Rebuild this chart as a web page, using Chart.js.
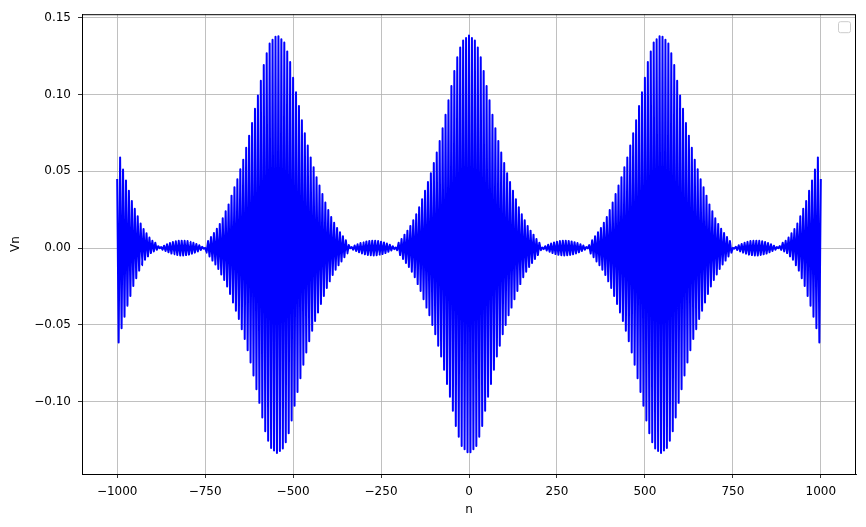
<!DOCTYPE html>
<html><head><meta charset="utf-8">
<script src="https://cdn.jsdelivr.net/npm/chart.js@4/dist/chart.umd.min.js"></script>
<style>html,body{margin:0;padding:0;background:#fff}#wrap{width:866px;height:527px}</style>
</head><body><div id="wrap"><canvas id="c" width="866" height="527"></canvas></div>
<script>
// Series values Vn (alternating crest / trough samples, left to right)
const vn = [
0.045, -0.0615, 0.059, -0.0523, 0.0511, -0.0448, 0.0439, -0.0375, 0.0372, -0.0312,
0.0306, -0.0247, 0.0256, -0.0197, 0.0206, -0.0147, 0.016, -0.0112, 0.0123, -0.0076,
0.0096, -0.0054, 0.0068, -0.0033, 0.0047, -0.0022, 0.0035, -0.0012, 0.0012, -0.0001,
0.0006, -0.0011, 0.0015, -0.002, 0.0024, -0.0028, 0.0032, -0.0036, 0.0039, -0.0041,
0.0044, -0.0045, 0.0047, -0.0048, 0.0048, -0.0048, 0.0047, -0.0046, 0.0045, -0.0043,
0.004, -0.0037, 0.0034, -0.003, 0.0026, -0.0022, 0.0018, -0.0013, 0.0008, -0.0004,
0.0001, -0.003, 0.0045, -0.0055, 0.0071, -0.0082, 0.0098, -0.0107, 0.0125, -0.0136,
0.0157, -0.0173, 0.0194, -0.0208, 0.0239, -0.0251, 0.0284, -0.03, 0.0341, -0.0354,
0.0395, -0.0409, 0.0448, -0.0462, 0.0512, -0.0528, 0.0575, -0.0592, 0.0652, -0.0665,
0.073, -0.0745, 0.0813, -0.083, 0.0907, -0.092, 0.0993, -0.1008, 0.1088, -0.1104,
0.1192, -0.1192, 0.1268, -0.1255, 0.1332, -0.1302, 0.1356, -0.1318, 0.1376, -0.1335,
0.1379, -0.1322, 0.1359, -0.1305, 0.1338, -0.1265, 0.128, -0.1205, 0.1211, -0.1123,
0.1109, -0.1026, 0.1014, -0.0938, 0.0924, -0.0848, 0.0831, -0.076, 0.0747, -0.068,
0.0668, -0.0607, 0.059, -0.0538, 0.0526, -0.0475, 0.046, -0.0419, 0.0407, -0.0365,
0.0351, -0.0312, 0.0296, -0.026, 0.0248, -0.0217, 0.0202, -0.0176, 0.0164, -0.0142,
0.0131, -0.0112, 0.0103, -0.0087, 0.0077, -0.006, 0.005, -0.0036, 0.0019, -0.0002,
0.0006, -0.0011, 0.0016, -0.002, 0.0024, -0.0028, 0.0032, -0.0035, 0.0038, -0.0041,
0.0043, -0.0045, 0.0046, -0.0047, 0.0048, -0.0048, 0.0048, -0.0047, 0.0045, -0.0044,
0.0041, -0.0039, 0.0036, -0.0033, 0.0029, -0.0025, 0.0021, -0.0016, 0.0012, -0.0007,
0.0003, -0.0014, 0.0035, -0.0046, 0.0059, -0.0071, 0.0087, -0.0097, 0.0113, -0.0124,
0.0144, -0.0154, 0.0181, -0.019, 0.022, -0.0235, 0.0265, -0.0279, 0.0318, -0.0334,
0.0372, -0.0388, 0.0429, -0.0438, 0.0486, -0.0501, 0.0553, -0.0562, 0.0621, -0.0636,
0.0697, -0.0706, 0.078, -0.0793, 0.0868, -0.0885, 0.0962, -0.0968, 0.1055, -0.106,
0.1153, -0.1158, 0.1242, -0.1229, 0.1305, -0.1289, 0.135, -0.131, 0.1367, -0.133,
0.1383,
-0.133, 0.1367, -0.131, 0.135, -0.1289, 0.1305, -0.1229, 0.1242, -0.1158, 0.1153,
-0.106, 0.1055, -0.0968, 0.0962, -0.0885, 0.0868, -0.0793, 0.078, -0.0706, 0.0697,
-0.0636, 0.0621, -0.0562, 0.0553, -0.0501, 0.0486, -0.0438, 0.0429, -0.0388, 0.0372,
-0.0334, 0.0318, -0.0279, 0.0265, -0.0235, 0.022, -0.019, 0.0181, -0.0154, 0.0144,
-0.0124, 0.0113, -0.0097, 0.0087, -0.0071, 0.0059, -0.0046, 0.0035, -0.0014, 0.0003,
-0.0007, 0.0012, -0.0016, 0.0021, -0.0025, 0.0029, -0.0033, 0.0036, -0.0039, 0.0041,
-0.0044, 0.0045, -0.0047, 0.0048, -0.0048, 0.0048, -0.0047, 0.0046, -0.0045, 0.0043,
-0.0041, 0.0038, -0.0035, 0.0032, -0.0028, 0.0024, -0.002, 0.0016, -0.0011, 0.0006,
-0.0002, 0.0019, -0.0036, 0.005, -0.006, 0.0077, -0.0087, 0.0103, -0.0112, 0.0131,
-0.0142, 0.0164, -0.0176, 0.0202, -0.0217, 0.0248, -0.026, 0.0296, -0.0312, 0.0351,
-0.0365, 0.0407, -0.0419, 0.046, -0.0475, 0.0526, -0.0538, 0.059, -0.0607, 0.0668,
-0.068, 0.0747, -0.076, 0.0831, -0.0848, 0.0924, -0.0938, 0.1014, -0.1026, 0.1109,
-0.1123, 0.1211, -0.1205, 0.128, -0.1265, 0.1338, -0.1305, 0.1359, -0.1322, 0.1379,
-0.1335, 0.1376, -0.1318, 0.1356, -0.1302, 0.1332, -0.1255, 0.1268, -0.1192, 0.1192,
-0.1104, 0.1088, -0.1008, 0.0993, -0.092, 0.0907, -0.083, 0.0813, -0.0745, 0.073,
-0.0665, 0.0652, -0.0592, 0.0575, -0.0528, 0.0512, -0.0462, 0.0448, -0.0409, 0.0395,
-0.0354, 0.0341, -0.03, 0.0284, -0.0251, 0.0239, -0.0208, 0.0194, -0.0173, 0.0157,
-0.0136, 0.0125, -0.0107, 0.0098, -0.0082, 0.0071, -0.0055, 0.0045, -0.003, 0.0001,
-0.0004, 0.0008, -0.0013, 0.0018, -0.0022, 0.0026, -0.003, 0.0034, -0.0037, 0.004,
-0.0043, 0.0045, -0.0046, 0.0047, -0.0048, 0.0048, -0.0048, 0.0047, -0.0045, 0.0044,
-0.0041, 0.0039, -0.0036, 0.0032, -0.0028, 0.0024, -0.002, 0.0015, -0.0011, 0.0006,
-0.0001, 0.0012, -0.0012, 0.0035, -0.0022, 0.0047, -0.0033, 0.0068, -0.0054, 0.0096,
-0.0076, 0.0123, -0.0112, 0.016, -0.0147, 0.0206, -0.0197, 0.0256, -0.0247, 0.0306,
-0.0312, 0.0372, -0.0375, 0.0439, -0.0448, 0.0511, -0.0523, 0.059, -0.0615, 0.045
];
// n range covered by the samples
const nStart = -1000;
const nEnd = 1000;
// Tick labels
const xTicks = [-1000, -750, -500, -250, 0, 250, 500, 750, 1000];
const yTicks = [-0.10, -0.05, 0.00, 0.05, 0.10, 0.15];
const xLimits = [-1100, 1100];
const yLimits = [-0.1471, 0.1522];
const xTitle = 'n';
const yTitle = 'Vn';

const points = vn.map((v, j) => ({x: nStart + j * (nEnd - nStart) / (vn.length - 1), y: v}));
const fmt = v => { const s = String(v); return v < 0 ? '\u2212' + s.slice(1) : s; };
const fmtY = v => { const s = Math.abs(v).toFixed(2); return v < -1e-9 ? '\u2212' + s : s; };
const FONT = {family: 'DejaVu Sans', size: 12};

const framePlugin = {
  id: 'frame',
  afterDraw(chart) {
    const {ctx, chartArea: a} = chart;
    ctx.save();
    ctx.strokeStyle = '#000';
    ctx.lineWidth = 1;
    ctx.strokeRect(a.left + 0.5, a.top + 0.5, a.right - a.left - 1, a.bottom - a.top);
    // empty legend frame (top right)
    const w = 12, h = 11, x = a.right - 17.5, y = a.top + 7.5, r = 2;
    ctx.beginPath();
    ctx.moveTo(x + r, y); ctx.lineTo(x + w - r, y); ctx.quadraticCurveTo(x + w, y, x + w, y + r);
    ctx.lineTo(x + w, y + h - r); ctx.quadraticCurveTo(x + w, y + h, x + w - r, y + h);
    ctx.lineTo(x + r, y + h); ctx.quadraticCurveTo(x, y + h, x, y + h - r);
    ctx.lineTo(x, y + r); ctx.quadraticCurveTo(x, y, x + r, y);
    ctx.fillStyle = 'rgba(255,255,255,0.8)';
    ctx.fill();
    ctx.strokeStyle = '#cccccc';
    ctx.stroke();
    ctx.restore();
  }
};

new Chart(document.getElementById('c'), {
  type: 'line',
  data: {
    datasets: [{
      data: points,
      borderColor: '#0000ff',
      borderWidth: 2.0,
      borderJoinStyle: 'round',
      pointRadius: 0,
      fill: false,
      tension: 0.000001
    }]
  },
  options: {
    responsive: false,
    devicePixelRatio: 1,
    animation: false,
    parsing: true,
    layout: {autoPadding: false, padding: {top: 9.8, right: 10, left: 0, bottom: 0}},
    plugins: {legend: {display: false}, tooltip: {enabled: false}},
    scales: {
      x: {
        type: 'linear',
        min: xLimits[0], max: xLimits[1],
        afterBuildTicks: s => { s.ticks = xTicks.map(v => ({value: v})); },
        afterFit: s => { s.height = 53; },
        grid: {color: '#b0b0b0', lineWidth: 0.8, tickColor: '#000', tickLength: 4, drawTicks: true},
        border: {display: true, color: '#000', width: 1},
        ticks: {color: '#000', font: FONT, padding: 7, maxRotation: 0, callback: v => fmt(v)},
        title: {display: true, text: xTitle, color: '#000', font: FONT, padding: {top: 0, bottom: 10}}
      },
      y: {
        type: 'linear',
        min: yLimits[0], max: yLimits[1],
        afterBuildTicks: s => { s.ticks = yTicks.map(v => ({value: v})); },
        afterFit: s => { s.width = 82; },
        grid: {color: '#b0b0b0', lineWidth: 0.8, tickColor: '#000', tickLength: 4, drawTicks: true},
        border: {display: true, color: '#000', width: 1},
        ticks: {color: '#000', font: FONT, padding: 7, callback: v => fmtY(v)},
        title: {display: true, text: yTitle, color: '#000', font: FONT, padding: {top: 9, bottom: 0}}
      }
    }
  },
  plugins: [framePlugin]
});
</script>
</body></html>
